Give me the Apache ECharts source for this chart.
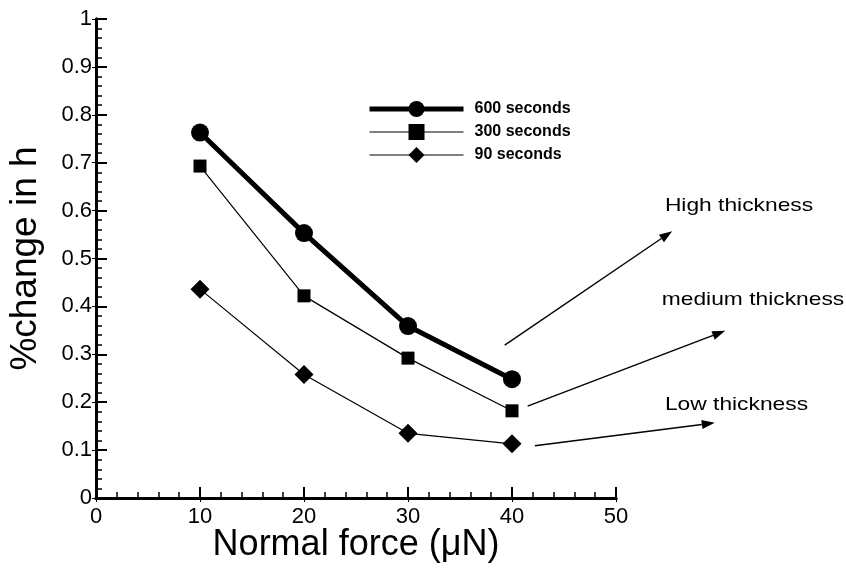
<!DOCTYPE html>
<html><head><meta charset="utf-8">
<script src="https://cdn.jsdelivr.net/npm/echarts@6/dist/echarts.min.js"></script>
<style>html,body{margin:0;padding:0;background:#fff}#c{width:846px;height:568px}</style>
</head><body><div id="c"></div>
<script>
const forces = [10, 20, 30, 40];
const s600 = [0.763, 0.553, 0.359, 0.248];
const s300 = [0.693, 0.422, 0.292, 0.182];
const s90 = [0.436, 0.258, 0.135, 0.113];
const seriesNames = ['600 seconds', '300 seconds', '90 seconds'];
const annoTexts = ['High thickness', 'medium thickness', 'Low thickness'];
// arrows in data coordinates: [x0,y0,x1,y1]
const annoArrows = [[39.3, 0.319, 55.4, 0.557], [41.5, 0.192, 60.5, 0.349], [42.2, 0.109, 59.5, 0.157]];
const annoLabelPos = [[54.7, 0.61], [54.4, 0.413], [54.7, 0.195]];

const F = 'Liberation Sans, Arial, Helvetica, sans-serif';
const chart = echarts.init(document.getElementById('c'));
const pair = a => forces.map((x, i) => [x, a[i]]);
const lineW = [5, 1.2, 1.2];
chart.setOption({
  animation: false,
  backgroundColor: '#fff',
  grid: {left: 96, right: 230, top: 19, bottom: 70, containLabel: false, outerBoundsMode: 'none'},
  xAxis: [{
    type: 'value', min: 0, max: 50, interval: 10, position: 'bottom',
    name: 'Normal force (\u03bcN)', nameLocation: 'middle', nameGap: 29, nameMoveOverlap: false,
    nameTextStyle: {fontFamily: F, fontSize: 36, color: '#000'},
    axisLine: {lineStyle: {color: '#000', width: 3}},
    axisTick: {inside: true, length: 11, lineStyle: {color: '#000', width: 2}},
    minorTick: {show: true, splitNumber: 5, length: 6, lineStyle: {color: '#000', width: 1.5}},
    axisLabel: {fontFamily: F, fontSize: 22, color: '#000', margin: 8},
    splitLine: {show: false}
  }, {
    type: 'value', min: 0, max: 50, interval: 10, position: 'top',
    axisLine: {lineStyle: {color: '#000', width: 3}},
    axisTick: {inside: true, length: 4, lineStyle: {color: '#000', width: 1}},
    axisLabel: {show: false}, splitLine: {show: false}
  }],
  yAxis: [{
    type: 'value', min: 0, max: 1, interval: 0.1, position: 'left',
    name: '%change in h', nameLocation: 'middle', nameGap: 52, nameMoveOverlap: false,
    nameTextStyle: {fontFamily: F, fontSize: 37, color: '#000'},
    axisLine: {lineStyle: {color: '#000', width: 3}},
    axisTick: {inside: true, length: 11, lineStyle: {color: '#000', width: 2}},
    minorTick: {show: true, splitNumber: 5, length: 6, lineStyle: {color: '#000', width: 1.5}},
    axisLabel: {fontFamily: F, fontSize: 22, color: '#000', margin: 4,
      formatter: v => (Math.round(v * 10) / 10).toString()},
    splitLine: {show: false}
  }, {
    type: 'value', min: 0, max: 1, interval: 0.1, position: 'right',
    axisLine: {lineStyle: {color: '#000', width: 3}},
    axisTick: {inside: true, length: 4, lineStyle: {color: '#000', width: 1}},
    axisLabel: {show: false}, splitLine: {show: false}
  }],
  legend: {
    orient: 'vertical', left: 362, top: 96, itemWidth: 94, itemHeight: 20, itemGap: 7,
    data: seriesNames.map((n, i) => ({name: n, lineStyle: {width: lineW[i]}})),
    textStyle: {fontFamily: F, fontSize: 16, fontWeight: 'bold', color: '#000', padding: [0, 0, 0, 6]}
  },
  series: [
    {name: seriesNames[0], type: 'line', data: pair(s600), symbol: 'circle', symbolSize: 18,
      lineStyle: {color: '#000', width: lineW[0]}, itemStyle: {color: '#000'}},
    {name: seriesNames[1], type: 'line', data: pair(s300), symbol: 'rect', symbolSize: 13,
      lineStyle: {color: '#000', width: lineW[1]}, itemStyle: {color: '#000'}},
    {name: seriesNames[2], type: 'line', data: pair(s90), symbol: 'diamond', symbolSize: 19,
      lineStyle: {color: '#000', width: lineW[2]}, itemStyle: {color: '#000'}}
  ]
});

const g = [];
annoArrows.forEach(a => {
  const p0 = chart.convertToPixel({xAxisIndex: 0, yAxisIndex: 0}, [a[0], a[1]]);
  const p1 = chart.convertToPixel({xAxisIndex: 0, yAxisIndex: 0}, [a[2], a[3]]);
  const ang = Math.atan2(p1[1] - p0[1], p1[0] - p0[0]);
  const L = 13, W = 4.5;
  const bx = p1[0] - L * Math.cos(ang), by = p1[1] - L * Math.sin(ang);
  g.push({type: 'line', shape: {x1: p0[0], y1: p0[1], x2: bx, y2: by}, style: {stroke: '#000', lineWidth: 1.4}});
  g.push({type: 'polygon', shape: {points: [[p1[0], p1[1]],
    [bx + W * Math.sin(ang), by - W * Math.cos(ang)], [bx - W * Math.sin(ang), by + W * Math.cos(ang)]]},
    style: {fill: '#000'}});
});
annoLabelPos.forEach((p, i) => {
  const q = chart.convertToPixel({xAxisIndex: 0, yAxisIndex: 0}, p);
  g.push({type: 'text', x: q[0], y: q[1], scaleX: 1.2,
    style: {text: annoTexts[i], font: '19px ' + F, fill: '#000', textVerticalAlign: 'middle'}});
});
chart.setOption({graphic: g});
</script></body></html>
